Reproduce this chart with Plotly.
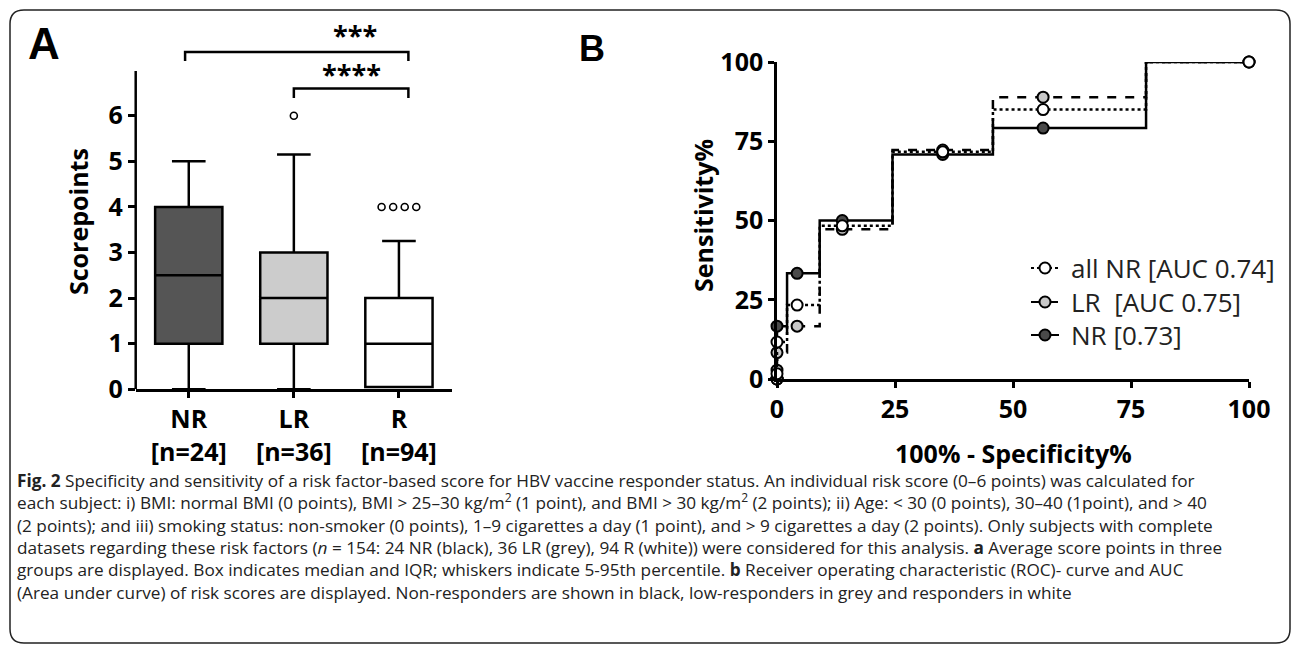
import plotly.graph_objects as go

W, H = 1293, 645

def fx(px):
    return px / W

def fy(py):
    return 1 - py / H

# ---------------- Panel A data (box plot) ----------------
groups = ["NR", "LR", "R"]
group_n = ["[n=24]", "[n=36]", "[n=94]"]
box_q1 = [1.0, 1.0, 0.05]
box_median = [2.5, 2.0, 1.0]
box_q3 = [4.0, 3.0, 2.0]
box_lower = [0.0, 0.0, 0.05]
box_upper = [5.0, 5.15, 3.25]
box_fill = ["#555555", "#cccccc", "#ffffff"]
outliers_LR = [6]
outliers_R = [4, 4, 4, 4]
sig_labels = ["***", "****"]

# ---------------- Panel B data (ROC) ----------------
roc_fpr = [0, 0, 0, 4.26, 13.83, 35.11, 56.38, 100]
roc_all_nr = [0, 1.67, 11.67, 23.33, 48.33, 71.67, 85.0, 100]
roc_lr = [0, 2.78, 8.33, 16.67, 47.22, 72.22, 88.89, 100]
roc_nr = [0, 0, 16.67, 33.33, 50.0, 70.83, 79.17, 100]
roc_names = ["all NR [AUC 0.74]", "LR\u00a0 [AUC 0.75]", "NR [0.73]"]
roc_ticks = [0, 25, 50, 75, 100]

caption_lines = [
    "<b>Fig. 2</b> Specificity and sensitivity of a risk factor-based score for HBV vaccine responder status. An individual risk score (0–6 points) was calculated for",
    "each subject: i) BMI: normal BMI (0 points), BMI &gt; 25–30 kg/m<sup>2</sup> (1 point), and BMI &gt; 30 kg/m<sup>2</sup> (2 points); ii) Age: &lt; 30 (0 points), 30–40 (1point), and &gt; 40",
    "(2 points); and iii) smoking status: non-smoker (0 points), 1–9 cigarettes a day (1 point), and &gt; 9 cigarettes a day (2 points). Only subjects with complete",
    "datasets regarding these risk factors (<i>n</i> = 154: 24 NR (black), 36 LR (grey), 94 R (white)) were considered for this analysis. <b>a</b> Average score points in three",
    "groups are displayed. Box indicates median and IQR; whiskers indicate 5-95th percentile. <b>b</b> Receiver operating characteristic (ROC)- curve and AUC",
    "(Area under curve) of risk scores are displayed. Non-responders are shown in black, low-responders in grey and responders in white",
]

BOLD = dict(family="Open Sans", size=25, color="black", weight="bold")
LW = 2.5

fig = go.Figure()

# boxes
for i, g in enumerate(groups):
    fig.add_trace(go.Box(
        x=[i], q1=[box_q1[i]], median=[box_median[i]], q3=[box_q3[i]],
        lowerfence=[box_lower[i]], upperfence=[box_upper[i]],
        width=0.64, whiskerwidth=0.5, fillcolor=box_fill[i],
        line=dict(color="black", width=LW), boxpoints=False,
        showlegend=False, hoverinfo="skip", xaxis="x", yaxis="y", name=g,
    ))

# outliers
fig.add_trace(go.Scatter(
    x=[1] * len(outliers_LR), y=outliers_LR, mode="markers",
    marker=dict(symbol="circle-open", size=7, color="black", line=dict(width=1.6)),
    showlegend=False, xaxis="x", yaxis="y", hoverinfo="skip",
))
offs = [-0.165, -0.055, 0.055, 0.165]
fig.add_trace(go.Scatter(
    x=[2 + offs[k] for k in range(len(outliers_R))], y=outliers_R, mode="markers",
    marker=dict(symbol="circle-open", size=7, color="black", line=dict(width=1.6)),
    showlegend=False, xaxis="x", yaxis="y", hoverinfo="skip",
))

# ROC curves (drawn NR first so that all-NR sits on top, as in the reference)
roc_series = [
    (roc_nr, "solid", "#4a4a4a", 2),
    (roc_lr, "dash", "#c8c8c8", 1),
    (roc_all_nr, "dot", "#ffffff", 0),
]
for ys, dash, mc, k in roc_series:
    fig.add_trace(go.Scatter(
        x=roc_fpr, y=ys, mode="lines+markers", line_shape="hvh",
        line=dict(color="black", width=LW, dash=dash),
        marker=dict(size=11, color=mc, line=dict(color="black", width=2)),
        name=roc_names[k], cliponaxis=False, xaxis="x2", yaxis="y2",
        showlegend=False,
    ))

# manual legend on a pixel overlay axis
leg_rows = [268, 302, 335]
leg_style = [("dot", "#ffffff"), ("dash", "#c8c8c8"), ("solid", "#4a4a4a")]
for k, yy in enumerate(leg_rows):
    dash, mc = leg_style[k]
    fig.add_trace(go.Scatter(
        x=[1031, 1059], y=[yy, yy], mode="lines",
        line=dict(color="black", width=2, dash=dash),
        xaxis="x3", yaxis="y3", showlegend=False, hoverinfo="skip", cliponaxis=False))
    fig.add_trace(go.Scatter(
        x=[1045], y=[yy], mode="markers",
        marker=dict(size=11, color=mc, line=dict(color="black", width=2)),
        xaxis="x3", yaxis="y3", showlegend=False, hoverinfo="skip", cliponaxis=False))

axis_common = dict(showgrid=False, zeroline=False, ticks="outside", tickwidth=LW,
                   tickcolor="black", linecolor="black", linewidth=LW, tickfont=BOLD,
                   automargin=False)

fig.update_layout(
    template="none",
    width=W, height=H, autosize=False,
    margin=dict(l=0, r=0, t=0, b=0, pad=0, autoexpand=False),
    paper_bgcolor="white", plot_bgcolor="rgba(0,0,0,0)",
    boxmode="overlay", showlegend=False,
    xaxis=dict(domain=[fx(135.7), fx(452)], range=[-0.505, 2.505], anchor="y",
               tickvals=[0, 1, 2], ticktext=[f"{g}<br>{n}" for g, n in zip(groups, group_n)],
               showline=True, ticklen=6, **axis_common),
    yaxis=dict(domain=[fy(389.3), fy(20)], range=[0, 8.1], anchor="x",
               tickvals=[0, 1, 2, 3, 4, 5, 6], showline=False, ticklen=7, **axis_common),
    xaxis2=dict(domain=[fx(777), fx(1249)], range=[0, 100], anchor="y2",
                tickvals=roc_ticks, showline=True, ticklen=6, **axis_common),
    yaxis2=dict(domain=[fy(379), fy(62)], range=[0, 100], anchor="x2",
                tickvals=roc_ticks, showline=True, ticklen=6, **axis_common),
    xaxis3=dict(domain=[0, 1], range=[0, W], anchor="y3", visible=False, automargin=False),
    yaxis3=dict(domain=[0, 1], range=[H, 0], anchor="x3", visible=False, automargin=False),
)

shapes = []
# y axis line for panel A
shapes.append(dict(type="line", xref="x domain", yref="y", x0=0, x1=0, y0=0, y1=6.98,
                   line=dict(color="black", width=LW)))
# significance brackets
for (xa, xb, ytop, yleg) in [(-0.035, 2.09, 7.40, 7.20), (1.0, 2.09, 6.60, 6.39)]:
    shapes.append(dict(type="path", xref="x", yref="y",
                       path=f"M {xa},{yleg} L {xa},{ytop} L {xb},{ytop} L {xb},{yleg}",
                       line=dict(color="black", width=LW)))
# rounded frame
x0, y0, x1, y1, r = 10, 10, 1290, 643, 14
pts = (f"M {fx(x0+r)},{fy(y0)} L {fx(x1-r)},{fy(y0)} Q {fx(x1)},{fy(y0)} {fx(x1)},{fy(y0+r)} "
       f"L {fx(x1)},{fy(y1-r)} Q {fx(x1)},{fy(y1)} {fx(x1-r)},{fy(y1)} "
       f"L {fx(x0+r)},{fy(y1)} Q {fx(x0)},{fy(y1)} {fx(x0)},{fy(y1-r)} "
       f"L {fx(x0)},{fy(y0+r)} Q {fx(x0)},{fy(y0)} {fx(x0+r)},{fy(y0)} Z")
shapes.append(dict(type="path", xref="paper", yref="paper", path=pts,
                   line=dict(color="#222", width=1.5)))
fig.update_layout(shapes=shapes)

ann = []
STAR = dict(family="Open Sans", size=27, color="black", weight="bold")
# stars
ann.append(dict(xref="x", yref="y", x=1.58, y=7.78, text=sig_labels[0], showarrow=False,
                xanchor="center", yanchor="middle", font=STAR))
ann.append(dict(xref="x", yref="y", x=1.55, y=6.92, text=sig_labels[1], showarrow=False,
                xanchor="center", yanchor="middle", font=STAR))
# panel labels
ann.append(dict(xref="paper", yref="paper", x=fx(44), y=fy(44), text="A", showarrow=False,
                xanchor="center", yanchor="middle",
                font=dict(family="Liberation Sans", size=44, color="black", weight="bold")))
ann.append(dict(xref="paper", yref="paper", x=fx(591.5), y=fy(48), text="B", showarrow=False,
                xanchor="center", yanchor="middle",
                font=dict(family="Liberation Sans", size=36, color="black", weight="bold")))
# axis titles
ann.append(dict(xref="paper", yref="paper", x=fx(78), y=fy(222), text="Scorepoints",
                xanchor="center", yanchor="middle",
                textangle=-90, showarrow=False, font=BOLD))
ann.append(dict(xref="paper", yref="paper", x=fx(703), y=fy(215), text="Sensitivity%",
                xanchor="center", yanchor="middle",
                textangle=-90, showarrow=False, font=BOLD))
ann.append(dict(xref="paper", yref="paper", x=fx(1013), y=fy(453), text="100% - Specificity%",
                xanchor="center", yanchor="middle", showarrow=False, font=BOLD))
# legend texts
for k, yy in enumerate(leg_rows):
    ann.append(dict(xref="paper", yref="paper", x=fx(1069), y=fy(yy), text=roc_names[k],
                    xanchor="left", yanchor="middle", showarrow=False,
                    font=dict(family="Open Sans", size=26, color="#222")))
# caption as a single multi-line text block
ann.append(dict(xref="paper", yref="paper", x=fx(15), y=fy(536), xanchor="left",
                yanchor="middle", text="<br>".join(caption_lines), showarrow=False,
                align="left", font=dict(family="Open Sans", size=17.2, color="#222")))
fig.update_layout(annotations=ann)

fig.write_html("out.html", config={"displayModeBar": False},
               post_script="document.body.style.margin='0px';document.body.style.overflow='hidden';")
